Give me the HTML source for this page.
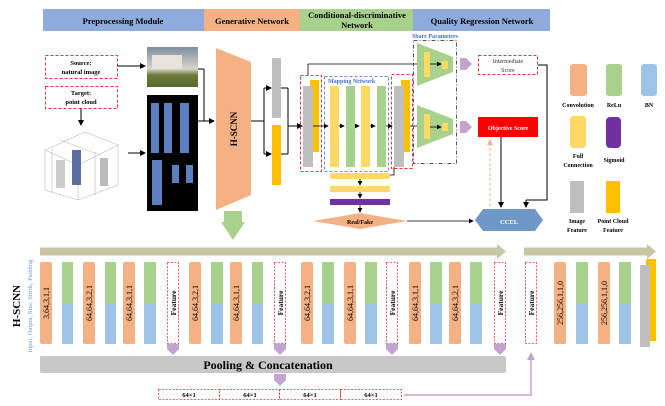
<!DOCTYPE html>
<html><head><meta charset="utf-8"><style>
body{margin:0;background:#fff}
svg{display:block}
text{font-family:"Liberation Serif",serif}
.b{font-weight:bold}
</style></head><body>
<svg width="665" height="406" viewBox="0 0 665 406" xmlns="http://www.w3.org/2000/svg">
<defs>
<marker id="a" markerWidth="6" markerHeight="6" refX="5" refY="3" orient="auto"><path d="M0,0L6,3L0,6z" fill="#000"/></marker>
<marker id="ao" markerWidth="6" markerHeight="6" refX="5" refY="3" orient="auto"><path d="M0,0L6,3L0,6z" fill="#f4b183"/></marker>
<linearGradient id="sky" x1="0" y1="0" x2="0" y2="1"><stop offset="0" stop-color="#7d8ea0"/><stop offset=".55" stop-color="#d9d4cb"/><stop offset=".7" stop-color="#6d7a3a"/><stop offset="1" stop-color="#5a6a30"/></linearGradient>
</defs>
<g class="b">
<rect x="43" y="9" width="161" height="22" fill="#8faadc"/>
<rect x="204" y="9" width="96" height="22" fill="#f4b183"/>
<rect x="300" y="9" width="113" height="22" fill="#a9d18e"/>
<rect x="413" y="9" width="137" height="22" fill="#8faadc"/>
<text x="123" y="24" font-size="8.5" text-anchor="middle">Preprocessing Module</text>
<text x="252" y="24" font-size="8.5" text-anchor="middle">Generative Network</text>
<text x="357" y="18" font-size="8.5" text-anchor="middle">Conditional-discriminative</text>
<text x="357" y="28" font-size="8.5" text-anchor="middle">Network</text>
<text x="482" y="24" font-size="8.5" text-anchor="middle">Quality Regression Network</text>
<rect x="45.5" y="55.5" width="72" height="23" fill="#fff" stroke="#e33" stroke-dasharray="3,2"/>
<text x="81" y="65" font-size="6.5" text-anchor="middle">Source:</text>
<text x="81" y="74" font-size="6.5" text-anchor="middle">natural image</text>
<rect x="45.5" y="86.5" width="72" height="22" fill="#fff" stroke="#e33" stroke-dasharray="3,2"/>
<text x="81" y="95" font-size="6.5" text-anchor="middle">Target:</text>
<text x="81" y="104" font-size="6.5" text-anchor="middle">point cloud</text>
</g>
<line x1="117" y1="66" x2="145" y2="66" stroke="#000" marker-end="url(#a)"/>
<line x1="81" y1="108" x2="81" y2="125" stroke="#000" marker-end="url(#a)"/>
<g stroke="#bbb" fill="none" stroke-width=".6">
<path d="M45,150 L85,132 L118,145 L78,165 Z"/><path d="M45,150 L45,190 L78,200 L78,165"/><path d="M118,145 L118,185 L78,200"/>
<path d="M52,148 L52,193 M95,152 L95,195 M60,140 L100,155"/></g>
<rect x="56" y="160" width="9" height="28" fill="#ccc"/><rect x="72" y="150" width="9" height="35" fill="#5a6fa0"/><rect x="100" y="158" width="8" height="28" fill="#bbb"/>
<line x1="128" y1="153" x2="145" y2="153" stroke="#000" marker-end="url(#a)"/>
<rect x="147" y="47" width="51" height="40" fill="url(#sky)"/>
<rect x="152" y="55" width="30" height="14" fill="#e8e4dc"/>
<rect x="147" y="95" width="51" height="116" fill="#000"/>
<g fill="#5c7fc0"><rect x="151" y="103" width="8" height="50"/><rect x="164" y="103" width="8" height="50"/><rect x="180" y="103" width="9" height="50"/><rect x="152" y="160" width="10" height="45"/><rect x="172" y="165" width="7" height="18"/><rect x="186" y="165" width="7" height="18"/></g>
<line x1="198" y1="69" x2="204" y2="69" stroke="#000"/><line x1="204" y1="69" x2="204" y2="121" stroke="#000"/>
<line x1="198" y1="121" x2="214" y2="121" stroke="#000" marker-end="url(#a)"/>
<path d="M216,48 L251,62 L251,195 L216,210 Z" fill="#f4b183"/>
<text class="b" transform="translate(237,129) rotate(-90)" font-size="9" text-anchor="middle">H-SCNN</text>
<polygon points="224,211 242,211 242,222 245,222 233,240 221,222 224,222" fill="#a9d18e"/>
<line x1="251" y1="121" x2="264" y2="121" stroke="#000"/>
<line x1="264" y1="88" x2="264" y2="154" stroke="#000"/>
<line x1="264" y1="88" x2="271" y2="88" stroke="#000" marker-end="url(#a)"/>
<line x1="264" y1="154" x2="271" y2="154" stroke="#000" marker-end="url(#a)"/>
<rect x="272" y="58" width="9" height="60" fill="#bfbfbf"/>
<rect x="272" y="125" width="9" height="60" fill="#ffc000"/>
<line x1="281" y1="88" x2="288" y2="88" stroke="#000"/><line x1="281" y1="154" x2="288" y2="154" stroke="#000"/>
<line x1="288" y1="88" x2="288" y2="154" stroke="#000"/>
<line x1="288" y1="126" x2="302" y2="126" stroke="#000" marker-end="url(#a)"/>
<rect x="300.5" y="75.5" width="21" height="96" fill="none" stroke="#e33" stroke-dasharray="3,2"/>
<rect x="310" y="80" width="9" height="72" fill="#ffc000"/>
<rect x="303" y="86" width="10" height="81" fill="#bfbfbf"/>
<rect x="324.5" y="76.5" width="64" height="95" fill="none" stroke="#6f8fd0" stroke-dasharray="3,2"/>
<text class="b" x="328" y="83" font-size="6" fill="#4472c4">Mapping Network</text>
<rect x="330" y="86" width="9" height="81" fill="#ffd966"/>
<rect x="346" y="86" width="9" height="81" fill="#a9d18e"/>
<rect x="361" y="86" width="9" height="81" fill="#ffd966"/>
<rect x="377" y="86" width="9" height="81" fill="#a9d18e"/>
<rect x="391.5" y="74.5" width="21" height="94" fill="none" stroke="#e33" stroke-dasharray="3,2"/>
<rect x="401" y="80" width="9" height="72" fill="#ffc000"/>
<rect x="394" y="86" width="10" height="81" fill="#bfbfbf"/>
<g stroke="#000" stroke-width=".8">
<line x1="313" y1="126" x2="328" y2="126" marker-end="url(#a)"/>
<line x1="339" y1="126" x2="344" y2="126" marker-end="url(#a)"/>
<line x1="355" y1="126" x2="359" y2="126" marker-end="url(#a)"/>
<line x1="370" y1="126" x2="375" y2="126" marker-end="url(#a)"/>
<line x1="386" y1="126" x2="392" y2="126" marker-end="url(#a)"/>
<line x1="410" y1="126" x2="422" y2="126" marker-end="url(#a)"/>
<line x1="308" y1="75" x2="308" y2="64"/><line x1="308" y1="64" x2="422" y2="64" marker-end="url(#a)"/>
</g>
<rect x="413.5" y="40.5" width="43" height="123" fill="none" stroke="#555" stroke-dasharray="4,2,1,2"/>
<text class="b" x="435" y="38" font-size="6" fill="#4472c4" text-anchor="middle">Share Parameters</text>
<path d="M417,43 L453,57 L453,72 L417,86Z" fill="#a9d18e"/>
<path d="M417,105 L453,119 L453,134 L417,148Z" fill="#a9d18e"/>
<rect x="424" y="52" width="6" height="25" fill="#ffd966"/><rect x="442" y="61" width="6" height="8" fill="#ffd966"/>
<rect x="424" y="114" width="6" height="25" fill="#ffd966"/><rect x="442" y="123" width="6" height="8" fill="#ffd966"/>
<line x1="430" y1="64" x2="441" y2="64" stroke="#000" stroke-width=".8" marker-end="url(#a)"/>
<line x1="430" y1="127" x2="441" y2="127" stroke="#000" stroke-width=".8" marker-end="url(#a)"/>
<path d="M460,58 L466,58 L472,64 L466,70 L460,70Z" fill="#c5a3d0"/>
<path d="M460,121 L466,121 L472,127 L466,133 L460,133Z" fill="#c5a3d0"/>
<rect x="478.5" y="55.5" width="59" height="19" fill="#fff" stroke="#e33" stroke-dasharray="3,2"/>
<text x="508" y="63" font-size="6" text-anchor="middle" fill="#333">Intermediate</text>
<text x="508" y="72" font-size="6" text-anchor="middle" fill="#333">Score</text>
<rect x="478" y="117" width="60" height="20" fill="#f00"/>
<text class="b" x="508" y="130" font-size="6" fill="#fff" text-anchor="middle">Objective Score</text>
<path d="M483,209 L535,209 L543,220 L535,231 L483,231 L475,220Z" fill="#6f97c8"/>
<text class="b" x="509" y="224" font-size="6.5" fill="#fff" text-anchor="middle">CCEL</text>
<line x1="501" y1="137" x2="501" y2="207" stroke="#000" marker-end="url(#a)"/>
<line x1="490" y1="206" x2="490" y2="140" stroke="#f4b183" stroke-dasharray="3,2" marker-end="url(#ao)"/>
<path d="M538,65 L547,65 L547,200 L526,200" fill="none" stroke="#000"/>
<line x1="526" y1="200" x2="526" y2="207" stroke="#000" marker-end="url(#a)"/>
<path d="M394,167 L394,175 L390,175" fill="none" stroke="#000" stroke-width=".8"/>
<rect x="330" y="173" width="60" height="6" fill="#ffd966"/>
<rect x="330" y="186" width="60" height="6" fill="#ffd966"/>
<rect x="330" y="199" width="60" height="6" fill="#7030a0"/>
<g stroke="#000" stroke-width=".8"><line x1="360" y1="179" x2="360" y2="185" marker-end="url(#a)"/><line x1="360" y1="192" x2="360" y2="198" marker-end="url(#a)"/><line x1="360" y1="205" x2="360" y2="212" marker-end="url(#a)"/>
<line x1="407" y1="221" x2="473" y2="221" marker-end="url(#a)"/></g>
<path d="M313,221 L360,213 L407,221 L360,229Z" fill="#f4b183"/>
<text class="b" x="360" y="224" font-size="6" text-anchor="middle">Real/Fake</text>
<rect x="570" y="64" width="17" height="32" rx="3" fill="#f4b183"/>
<rect x="606" y="64" width="16" height="32" rx="3" fill="#a9d18e"/>
<rect x="641" y="64" width="16" height="32" rx="3" fill="#9dc3e6"/>
<rect x="570" y="116" width="16" height="32" rx="3" fill="#ffd966"/>
<rect x="606" y="117" width="15" height="31" rx="4" fill="#7030a0"/>
<rect x="570" y="181" width="14" height="32" fill="#bfbfbf"/>
<rect x="606" y="181" width="14" height="32" fill="#ffc000"/>
<g class="b" font-size="6" text-anchor="middle">
<text x="578" y="107">Convolution</text>
<text x="614" y="107">ReLu</text>
<text x="649" y="107">BN</text>
<text x="578" y="158">Full</text>
<text x="578" y="167">Connection</text>
<text x="614" y="162">Sigmoid</text>
<text x="577" y="223">Image</text>
<text x="577" y="232">Feature</text>
<text x="613" y="223">Point Cloud</text>
<text x="613" y="232">Feature</text>
</g>
<path d="M40,247.5 L497,247.5 L497,244 L506,251.5 L497,259 L497,255.5 L40,255.5Z" fill="#c9c6a5"/>
<path d="M524,247.5 L647,247.5 L647,244 L656,251.5 L647,259 L647,255.5 L524,255.5Z" fill="#c9c6a5"/>
<text class="b" transform="translate(20,306) rotate(-90)" font-size="11" text-anchor="middle">H-SCNN</text>
<text transform="translate(32,306) rotate(-90)" font-size="6.5" fill="#6f97d8" text-anchor="middle">Input, Output, Size, Stride, Padding</text>
<g font-size="8">
<g fill="#f4b183">
<rect x="40" y="262" width="12" height="82" rx="2"/><rect x="83" y="262" width="12" height="82" rx="2"/><rect x="123" y="262" width="12" height="82" rx="2"/>
<rect x="189" y="262" width="12" height="82" rx="2"/><rect x="230" y="262" width="12" height="82" rx="2"/>
<rect x="301" y="262" width="12" height="82" rx="2"/><rect x="344" y="262" width="12" height="82" rx="2"/>
<rect x="409" y="262" width="12" height="82" rx="2"/><rect x="449" y="262" width="12" height="82" rx="2"/>
<rect x="554" y="262" width="12" height="82" rx="2"/><rect x="598" y="262" width="12" height="82" rx="2"/>
</g>
<g fill="#a9d18e">
<rect x="62" y="262" width="11" height="42"/><rect x="105" y="262" width="11" height="42"/><rect x="144" y="262" width="12" height="42"/>
<rect x="211" y="262" width="12" height="42"/><rect x="252" y="262" width="11" height="42"/><rect x="322" y="262" width="12" height="42"/>
<rect x="365" y="262" width="12" height="42"/><rect x="430" y="262" width="12" height="42"/><rect x="470" y="262" width="12" height="42"/>
<rect x="576" y="262" width="12" height="42"/><rect x="619" y="262" width="12" height="42"/>
</g>
<g fill="#9dc3e6">
<rect x="62" y="304" width="11" height="40"/><rect x="105" y="304" width="11" height="40"/><rect x="144" y="304" width="12" height="40"/>
<rect x="211" y="304" width="12" height="40"/><rect x="252" y="304" width="11" height="40"/><rect x="322" y="304" width="12" height="40"/>
<rect x="365" y="304" width="12" height="40"/><rect x="430" y="304" width="12" height="40"/><rect x="470" y="304" width="12" height="40"/>
<rect x="576" y="304" width="12" height="40"/><rect x="619" y="304" width="12" height="40"/>
</g>
<g fill="#fff" stroke="#e33" stroke-dasharray="2,1.5" stroke-width=".8">
<rect x="167.5" y="262.5" width="11" height="81"/><rect x="274.5" y="262.5" width="11" height="81"/><rect x="386.5" y="262.5" width="11" height="81"/><rect x="494.5" y="262.5" width="11" height="81"/><rect x="525.5" y="262.5" width="11" height="81"/>
</g>
<rect x="646" y="259" width="10" height="82" fill="#ffc000"/>
<rect x="640" y="265" width="10" height="82" fill="#bfbfbf"/>
<g>
<text transform="translate(49,303) rotate(-90)" text-anchor="middle">3,64,3,1,1</text>
<text transform="translate(92,303) rotate(-90)" text-anchor="middle">64,64,3,2,1</text>
<text transform="translate(132,303) rotate(-90)" text-anchor="middle">64,64,3,1,1</text>
<text transform="translate(198,303) rotate(-90)" text-anchor="middle">64,64,3,2,1</text>
<text transform="translate(239,303) rotate(-90)" text-anchor="middle">64,64,3,1,1</text>
<text transform="translate(310,303) rotate(-90)" text-anchor="middle">64,64,3,2,1</text>
<text transform="translate(353,303) rotate(-90)" text-anchor="middle">64,64,3,1,1</text>
<text transform="translate(418,303) rotate(-90)" text-anchor="middle">64,64,3,1,1</text>
<text transform="translate(458,303) rotate(-90)" text-anchor="middle">64,64,3,2,1</text>
<text transform="translate(563,303) rotate(-90)" text-anchor="middle">256,256,1,1,0</text>
<text transform="translate(607,303) rotate(-90)" text-anchor="middle">256,256,1,1,0</text>
</g>
<g class="b" font-size="7.5">
<text transform="translate(176,303) rotate(-90)" text-anchor="middle">Feature</text>
<text transform="translate(283,303) rotate(-90)" text-anchor="middle">Feature</text>
<text transform="translate(395,303) rotate(-90)" text-anchor="middle">Feature</text>
<text transform="translate(503,303) rotate(-90)" text-anchor="middle">Feature</text>
<text transform="translate(534,303) rotate(-90)" text-anchor="middle">Feature</text>
</g>
</g>
<g fill="#c5a3d0">
<path d="M167,344 L179,344 L179,349 L173,355 L167,349Z"/>
<path d="M274,344 L286,344 L286,349 L280,355 L274,349Z"/>
<path d="M386,344 L398,344 L398,349 L392,355 L386,349Z"/>
<path d="M494,344 L506,344 L506,349 L500,355 L494,349Z"/>
<path d="M274,374 L286,374 L286,380 L280,386 L274,380Z"/>
</g>
<rect x="40" y="356" width="466" height="17" rx="2" fill="#c8c8c8"/>
<text class="b" x="268" y="369" font-size="12" text-anchor="middle">Pooling &amp; Concatenation</text>
<g fill="none" stroke="#e33" stroke-dasharray="2,1.5" stroke-width=".8">
<rect x="158.5" y="389.5" width="61" height="10"/><rect x="219.5" y="389.5" width="60" height="10"/><rect x="279.5" y="389.5" width="61" height="10"/><rect x="340.5" y="389.5" width="61" height="10"/></g>
<g class="b" font-size="6.5" text-anchor="middle"><text x="189" y="397">64×1</text><text x="250" y="397">64×1</text><text x="310" y="397">64×1</text><text x="371" y="397">64×1</text></g>
<path d="M404,395 L531,395 L531,358" fill="none" stroke="#c5a3d0" stroke-width="1.5"/>
<path d="M527,360 L531,352 L535,360Z" fill="#c5a3d0"/>
</svg>
</body></html>
